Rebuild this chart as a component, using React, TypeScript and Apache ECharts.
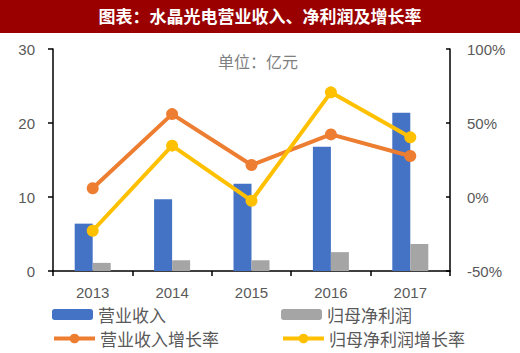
import React, { useEffect, useRef } from "react";
import * as echarts from "echarts";

const title = "图表：水晶光电营业收入、净利润及增长率";
const unitText = "单位：亿元";
const years = ["2013", "2014", "2015", "2016", "2017"];
const revenue = [6.4, 9.7, 11.8, 16.8, 21.4];
const netProfit = [1.1, 1.45, 1.45, 2.55, 3.65];
const revenueGrowth = [5.9, 56, 21.6, 42.3, 27.7];
const profitGrowth = [-22.8, 34.7, -2.5, 70.7, 40.3];
const seriesNames = ["营业收入", "归母净利润", "营业收入增长率", "归母净利润增长率"];
const colors = ["#4472C4", "#A5A5A5", "#ED7D31", "#FFC000"];

const FONT = "'Liberation Sans', 'Noto Sans CJK SC', sans-serif";
const CJK = "'Noto Sans CJK SC', sans-serif";

export default function App() {
  const ref = useRef<HTMLDivElement>(null);
  useEffect(() => {
    if (!ref.current) return;
    const chart = echarts.init(ref.current, null, { renderer: "svg" });
    const legendBase = {
      orient: "horizontal",
      itemWidth: 41,
      itemGap: 5,
      textStyle: { fontSize: 17, color: "#595959", fontFamily: CJK },
      padding: 0,
    };
    const positions = [
      { left: 52, top: 306, itemHeight: 11 },
      { left: 281, top: 306, itemHeight: 11 },
      { left: 52, top: 330, itemHeight: 12, lineStyle: { width: 4 } },
      { left: 281, top: 330, itemHeight: 12, lineStyle: { width: 4 } },
    ];
    chart.setOption({
      animation: false,
      backgroundColor: "#ffffff",
      color: colors,
      graphic: [
        {
          type: "rect",
          left: 0,
          top: 0,
          shape: { width: 520, height: 33 },
          style: { fill: "#9A0000" },
        },
        {
          type: "text",
          left: "center",
          top: 7,
          style: { text: title, fill: "#ffffff", font: `bold 17px ${CJK}` },
        },
        {
          type: "text",
          x: 258,
          y: 61,
          style: {
            text: unitText,
            fill: "#7F7F7F",
            font: `16px ${CJK}`,
            textAlign: "center",
            textVerticalAlign: "middle",
          },
        },
      ],
      legend: seriesNames.map((n, i) => ({
        ...legendBase,
        ...positions[i],
        data: [n],
      })),
      grid: { left: 53, right: 70, top: 49, bottom: 82 },
      xAxis: {
        type: "category",
        data: years,
        axisLine: { lineStyle: { color: "#000", width: 1.5 } },
        axisTick: { show: true, length: 5, lineStyle: { color: "#000", width: 1.5 } },
        axisLabel: { fontSize: 15, color: "#595959", fontFamily: FONT, margin: 14 },
      },
      yAxis: [
        {
          type: "value",
          min: 0,
          max: 30,
          interval: 10,
          splitLine: { show: false },
          axisLine: { show: true, lineStyle: { color: "#000", width: 1.5 } },
          axisTick: { show: true, length: 5, lineStyle: { color: "#000", width: 1.5 } },
          axisLabel: { fontSize: 15, color: "#595959", fontFamily: FONT, margin: 18 },
        },
        {
          type: "value",
          min: -50,
          max: 100,
          interval: 50,
          position: "right",
          splitLine: { show: false },
          axisLine: { show: true, lineStyle: { color: "#000", width: 1.5 } },
          axisTick: { show: true, inside: true, length: 4, lineStyle: { color: "#000", width: 1.5 } },
          axisLabel: { fontSize: 15, color: "#595959", fontFamily: FONT, margin: 17, formatter: "{value}%" },
        },
      ],
      series: [
        {
          name: seriesNames[0],
          type: "bar",
          data: revenue,
          barWidth: 18,
          barGap: "0%",
          itemStyle: { color: colors[0] },
        },
        {
          name: seriesNames[1],
          type: "bar",
          data: netProfit,
          barWidth: 18,
          barGap: "0%",
          itemStyle: { color: colors[1] },
        },
        {
          name: seriesNames[2],
          type: "line",
          yAxisIndex: 1,
          data: revenueGrowth,
          symbol: "circle",
          symbolSize: 12,
          lineStyle: { width: 4, color: colors[2] },
          itemStyle: { color: colors[2] },
        },
        {
          name: seriesNames[3],
          type: "line",
          yAxisIndex: 1,
          data: profitGrowth,
          symbol: "circle",
          symbolSize: 12,
          lineStyle: { width: 4, color: colors[3] },
          itemStyle: { color: colors[3] },
        },
      ],
    });
    return () => chart.dispose();
  }, []);
  return <div ref={ref} style={{ width: 520, height: 353, position: "absolute", left: 0, top: 0 }} />;
}
